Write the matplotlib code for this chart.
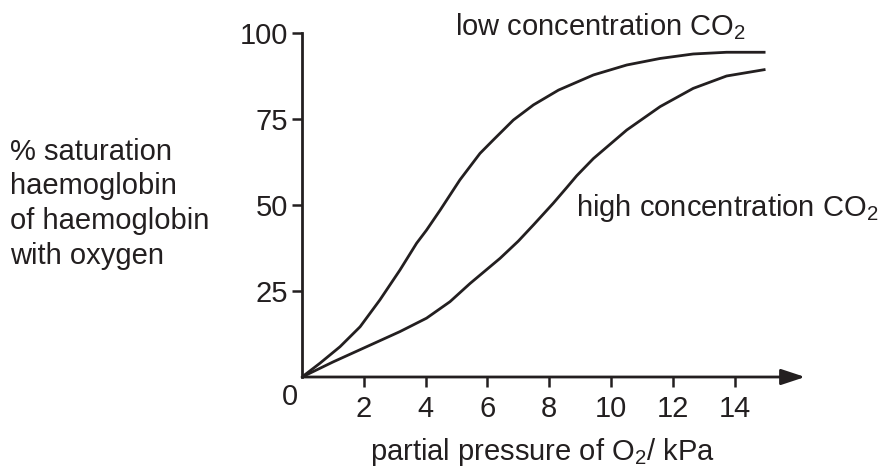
import matplotlib
matplotlib.use("Agg")
import matplotlib.pyplot as plt

plt.rcParams['font.family'] = ['Liberation Sans', 'DejaVu Sans']
plt.rcParams['mathtext.fontset'] = 'custom'
plt.rcParams['mathtext.rm'] = 'Liberation Sans'
plt.rcParams['mathtext.it'] = 'Liberation Sans'

# values
low_x = [0, 0.58, 1.23, 1.88, 2.52, 3.17, 3.71, 4.03, 4.47, 5.11, 5.76, 6.19,
         6.84, 7.49, 8.3, 9.43, 10.51, 11.59, 12.66, 13.74, 15]
low_y = [0, 4.0, 8.8, 14.6, 22.4, 31.1, 38.9, 42.7, 48.5, 57.3, 65, 68.9,
         74.7, 79.1, 83.4, 87.8, 90.7, 92.6, 93.9, 94.4, 94.4]
high_x = [0, 1.01, 2.09, 3.17, 4.03, 4.79, 5.44, 6.41, 7.0, 7.5, 8.13, 8.57,
          8.89, 9.43, 10.51, 11.59, 12.66, 13.74, 15]
high_y = [0, 4.4, 8.8, 13.2, 17.1, 21.9, 27.2, 34.5, 39.5, 44.3, 50.5, 55.1,
          58.5, 63.5, 71.8, 78.6, 83.9, 87.5, 89.4]
x_ticks = [2, 4, 6, 8, 10, 12, 14]
y_ticks = [25, 50, 75, 100]
ylabel_lines = ["% saturation", "haemoglobin", "of haemoglobin", "with oxygen"]

W, H = 880, 467
ink = '#231f20'
fs = 21
fig = plt.figure(figsize=(W / 100, H / 100), dpi=100)
ax = fig.add_axes([302 / W, (H - 377) / H, 16.5 * 30.9 / W, 344 / H])
ax.set_xlim(0, 16.5)
ax.set_ylim(0, 100)
ax.patch.set_visible(False)
for s in ['top', 'right', 'bottom']:
    ax.spines[s].set_visible(False)
ax.spines['left'].set_color(ink)
ax.spines['left'].set_linewidth(2)
ax.spines['left'].set_bounds(0, 100)

ax.plot(low_x, low_y, color=ink, lw=2, solid_joinstyle='round',
        solid_capstyle='butt')
ax.plot(high_x, high_y, color=ink, lw=2, solid_joinstyle='round',
        solid_capstyle='butt')

# x axis with arrow
ax.annotate('', xy=(16.28, 0), xytext=(0, 0), annotation_clip=False,
            arrowprops=dict(arrowstyle='-|>,head_length=1.45,head_width=0.48',
                            color=ink, lw=2, shrinkA=0, shrinkB=0,
                            mutation_scale=10))

ax.set_xticks(x_ticks)
ax.set_yticks(y_ticks)
ax.tick_params(axis='both', colors=ink, width=1.8, length=7.2, labelsize=fs,
               labelcolor=ink)
ax.tick_params(axis='x', pad=6)
ax.tick_params(axis='y', pad=3)

def px(x, y):
    return x / W, 1 - y / H

fig.text(*px(290, 405), '0', fontsize=fs, color=ink, ha='center', va='baseline')
fig.text(*px(455, 35), 'low concentration CO$_2$', fontsize=fs, color=ink,
         ha='left', va='baseline')
fig.text(*px(576, 216), 'high concentration CO$_2$', fontsize=fs, color=ink,
         ha='left', va='baseline')
fig.text(*px(370, 460), 'partial pressure of O$_2$/ kPa', fontsize=fs,
         color=ink, ha='left', va='baseline')
for i, line in enumerate(ylabel_lines):
    fig.text(*px(10, 160 + i * 34.5), line, fontsize=fs, color=ink,
             ha='left', va='baseline')

fig.savefig('out.png', dpi=100)
